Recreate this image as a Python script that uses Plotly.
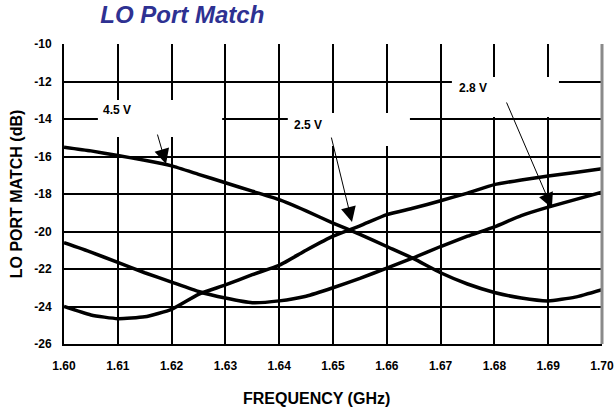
import plotly.graph_objects as go

freq = [1.600, 1.605, 1.610, 1.615, 1.620, 1.625, 1.630, 1.635, 1.640, 1.645, 1.650,
        1.655, 1.660, 1.665, 1.670, 1.675, 1.680, 1.685, 1.690, 1.695, 1.700]

v45 = [-15.5, -15.7, -15.95, -16.2, -16.5, -16.95, -17.4, -17.85, -18.3, -18.9, -19.55,
       -20.15, -20.8, -21.45, -22.2, -22.8, -23.25, -23.55, -23.7, -23.5, -23.1]
v25 = [-20.6, -21.1, -21.65, -22.2, -22.7, -23.2, -23.55, -23.8, -23.7, -23.45, -23.0,
       -22.5, -21.95, -21.4, -20.8, -20.25, -19.75, -19.15, -18.7, -18.3, -17.9]
v28 = [-24.0, -24.45, -24.65, -24.55, -24.15, -23.35, -22.85, -22.3, -21.8, -21.0, -20.25,
       -19.7, -19.1, -18.75, -18.36, -17.95, -17.5, -17.25, -17.04, -16.85, -16.65]

series = [("4.5 V", v45), ("2.5 V", v25), ("2.8 V", v28)]

x_ticks = [1.60, 1.61, 1.62, 1.63, 1.64, 1.65, 1.66, 1.67, 1.68, 1.69, 1.70]
x_ticktext = ["1.60", "1.61", "1.62", "1.63", "1.64", "1.65", "1.66", "1.67", "1.68", "1.69", "1.70"]
y_ticks = [-26, -24, -22, -20, -18, -16, -14, -12, -10]
y_ticktext = ["-26", "-24", "-22", "-20", "-18", "-16", "-14", "-12", "-10"]

# label: (text x, text y, box x0, x1, y0, y1, arrow from x,y, arrow to x,y)
labels = {
    "4.5 V": (1.60994, -13.52, 1.6063, 1.6294, -12.99, -14.96, 1.61729, -14.75, 1.61896, -16.40),
    "2.5 V": (1.64535, -14.32, 1.6416, 1.6643, -13.68, -15.44, 1.64963, -14.91, 1.65353, -19.49),
    "2.8 V": (1.67593, -12.35, 1.6721, 1.6920, -11.76, -13.89, 1.68214, -13.04, 1.69069, -18.75),
}

fig = go.Figure()
for name, vals in series:
    fig.add_trace(go.Scatter(x=freq, y=vals, mode="lines", name=name,
                             line=dict(color="black", width=3.5, shape="spline", smoothing=0.5),
                             showlegend=False, hoverinfo="skip"))

for name, (tx, ty, bx0, bx1, by0, by1, ax, ay, px, py) in labels.items():
    fig.add_shape(type="rect", xref="x", yref="y", x0=bx0, x1=bx1, y0=by0, y1=by1,
                  fillcolor="white", line=dict(width=0), layer="between")
    fig.add_annotation(x=tx, y=ty, xref="x", yref="y", text="<b>" + name + "</b>",
                       showarrow=False, font=dict(family="Liberation Sans, Arial", size=12, color="black"))
    fig.add_annotation(x=px, y=py, ax=ax, ay=ay, xref="x", yref="y", axref="x", ayref="y",
                       text="", showarrow=True, arrowhead=2, arrowsize=3, arrowwidth=1,
                       arrowcolor="black", standoff=0, startstandoff=0)

fig.add_shape(type="line", xref="paper", yref="paper", x0=1, x1=1, y0=0, y1=1,
              line=dict(color="#8a8a8a", width=3), layer="above")

# x-axis title as annotation (it sits left of the plot centre in the original)
fig.add_annotation(x=0.4697, y=-0.18, xref="paper", yref="paper", text="<b>FREQUENCY (GHz)</b>",
                   showarrow=False, xanchor="center", yanchor="middle",
                   font=dict(family="Liberation Sans, Arial", size=16, color="black"))

tickfont = dict(family="Liberation Sans, Arial", size=12, color="black", weight="bold")
fig.update_layout(
    width=615, height=408,
    margin=dict(l=64, r=13, t=44, b=64, autoexpand=False),
    paper_bgcolor="white", plot_bgcolor="white",
    title=dict(text="<b><i>LO Port Match</i></b>", x=0.2965, xanchor="center", y=0.963, yanchor="middle",
               font=dict(family="Liberation Sans, Arial", size=24, color="#2E3192")),
    xaxis=dict(range=[1.60, 1.70], tickvals=x_ticks, ticktext=x_ticktext,
               showgrid=True, gridcolor="black", gridwidth=1.6, automargin=False,
               showline=True, linecolor="black", linewidth=2,
               ticks="", ticklen=0, tickfont=tickfont, zeroline=False, ticklabelstandoff=10),
    yaxis=dict(range=[-26, -10], tickvals=y_ticks, ticktext=y_ticktext,
               showgrid=True, gridcolor="black", gridwidth=1.6, automargin=False,
               showline=True, linecolor="black", linewidth=2,
               ticks="", ticklen=0, tickfont=tickfont, zeroline=False, ticklabelstandoff=8,
               title=dict(text="<b>LO PORT MATCH (dB)</b>", standoff=8,
                          font=dict(family="Liberation Sans, Arial", size=16, color="black"))),
)

fig.write_html("out.html", config={"displayModeBar": False},
               post_script="document.body.style.margin='0';document.body.style.overflow='hidden';")
